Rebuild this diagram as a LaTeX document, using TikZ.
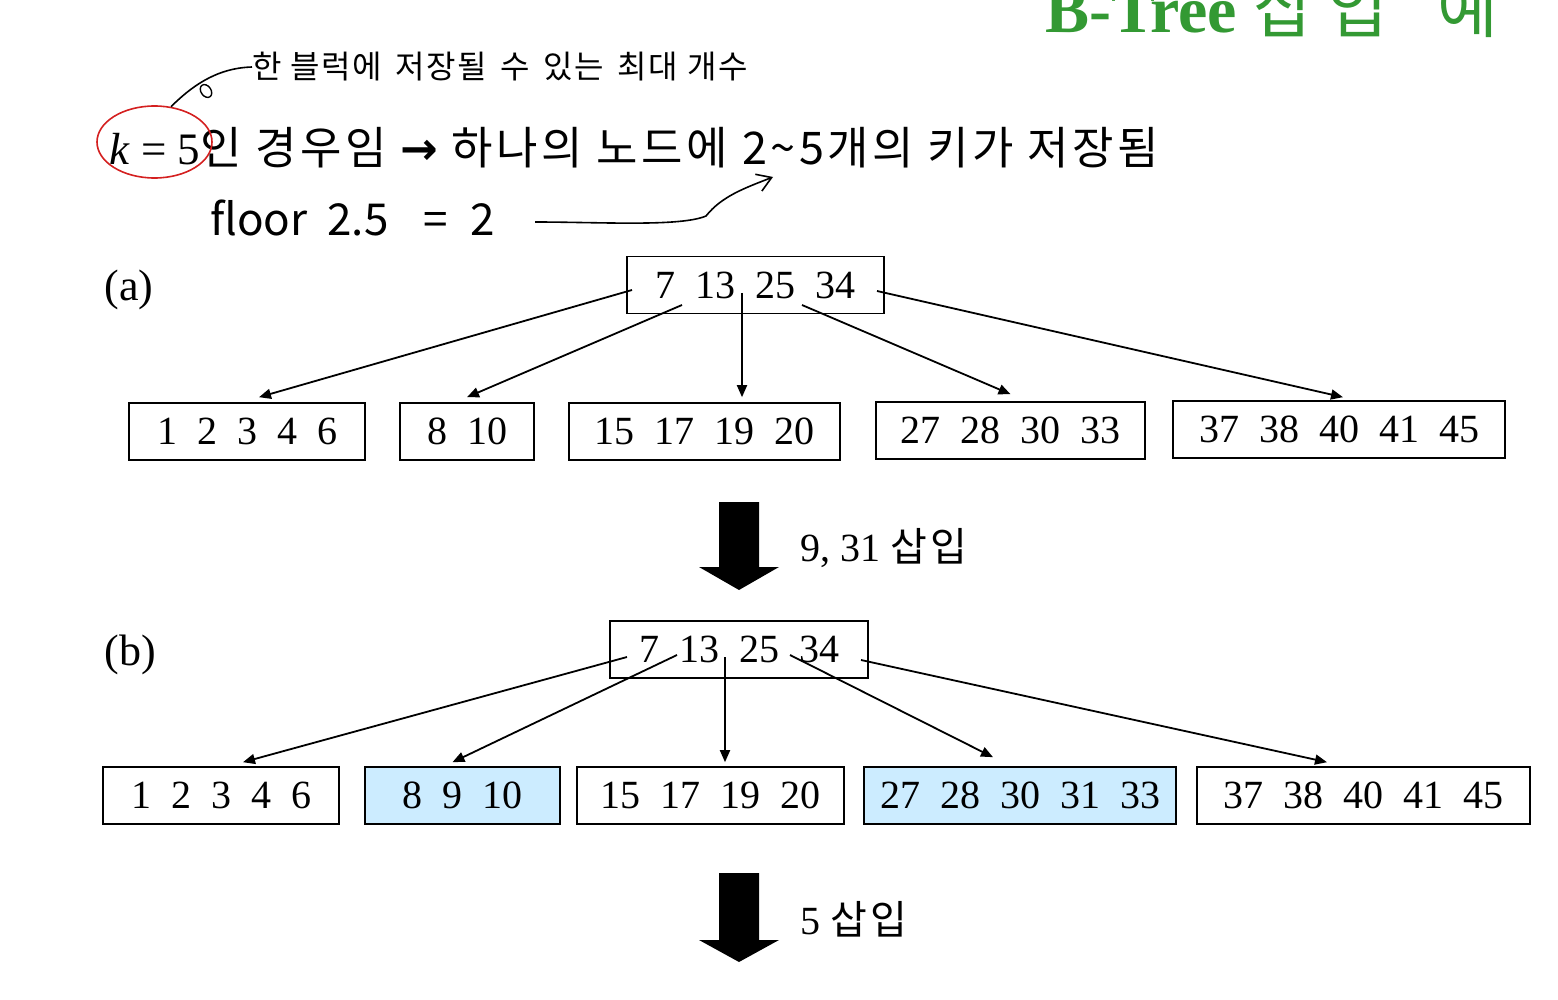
\documentclass[tikz,border=0pt]{standalone}
\usepackage{fontspec}
\setmainfont{Liberation Serif}
\newfontfamily\kr{Noto Sans CJK KR}
\newfontfamily\krs{Noto Sans CJK KR}[LetterSpace=8]
\newfontfamily\krh{Noto Sans CJK KR}[LetterSpace=5]
\newfontfamily\dv{DejaVu Sans}
\usetikzlibrary{arrows.meta,calc,shapes.geometric}

\definecolor{titlegreen}{HTML}{339933}
\definecolor{nodeblue}{HTML}{CCECFF}
\definecolor{circred}{HTML}{D42020}

\tikzset{
 keybox/.style={draw, line width=0.8pt, inner sep=0pt, font=\fontsize{20}{24}\selectfont, minimum height=28.5pt},
 newbox/.style={keybox, fill=nodeblue},
 ptr/.style={line width=0.9pt, -{Triangle[length=6pt,width=5pt]}},
 bigarrow/.style={fill=black},
 hand/.style={font=\krh\fontsize{16}{18}\selectfont, inner sep=0pt},
 lbl/.style={font=\fontsize{22}{26}\selectfont, inner sep=0pt},
 steplbl/.style={font=\fontsize{20}{24}\selectfont, inner sep=0pt, anchor=west},
}
\newcommand\kg{\hspace{0.5em}}

\begin{document}
\begin{tikzpicture}[x=0.5pt,y=-0.5pt]
\useasboundingbox (0,0) rectangle (1558,1000);

% title (cut off at top, as in the reference)
\node[anchor=base west, inner sep=0, text=titlegreen, font=\fontsize{33}{38}\selectfont\bfseries] (title) at (1045,33) {B-Tree {\kr\mdseries 삽\hspace{0.2em}입\hspace{0.75em}예}};

% main line
\node[anchor=base west, inner sep=0, font=\fontsize{22.5}{27}\selectfont] (kline) at (109,165)
 {\textit{k} = 5{\krs 인 경우임 {\dv\bfseries →} 하나의 노드에 2\char"007E 5개의 키가 저장됨}};

% handwritten annotations
\node[draw=circred, line width=0.8pt, ellipse, minimum width=57.5pt, minimum height=36pt, inner sep=0] (kcirc) at (154.5,142) {};
\node[hand, anchor=west] (note) at (252,67) {한 블럭에\hspace{0.15em} 저장될\hspace{0.15em} 수\hspace{0.15em} 있는\hspace{0.15em} 최대 개수};
\draw[line width=0.8pt] (kcirc.65) .. controls (190,88) and (215,68) .. (note.west);
\draw[line width=0.7pt, rotate around={35:(206,91)}] (206,91) ellipse [x radius=2.5pt, y radius=3.5pt];
\node[anchor=west, inner sep=0, font=\kr\fontsize{22}{26}\selectfont] (floor) at (210,218) {floor\hspace{0.45em}2.5\hspace{0.8em}=\hspace{0.5em}2};
\coordinate (fstart) at (535,222);
\coordinate (ftip) at (773,177);
\draw[line width=0.8pt, -{Straight Barb[length=7pt,width=9pt]}] (fstart) .. controls (600,222) and (680,227) .. (706,216) .. controls (722,196) and (745,188) .. (ftip);

% (a)
\node[lbl] (la) at (129,290) {(a)};
\node[keybox, minimum width=128.5pt] (ra) at (755.5,285) {7\kg13\kg25\kg34};
\node[keybox, minimum width=118pt] (a1) at (247,431.5) {1\kg2\kg3\kg4\kg6};
\node[keybox, minimum width=67pt] (a2) at (467,431.5) {8\kg10};
\node[keybox, minimum width=135.5pt] (a3) at (704.5,431.5) {15\kg17\kg19\kg20};
\node[keybox, minimum width=134.5pt] (a4) at (1010.5,430.5) {27\kg28\kg30\kg33};
\node[keybox, minimum width=166pt] (a5) at (1339,429.5) {37\kg38\kg40\kg41\kg45};

\coordinate (pa1) at (632,290);
\coordinate (pa2) at (682,305);
\coordinate (pa3) at (742,293);
\coordinate (pa4) at (802,305);
\coordinate (pa5) at (877,291);
\draw[ptr] (pa1) -- ($(a1.north)+(12,-5)$);
\draw[ptr] (pa2) -- ($(a2.north)+(0,-5)$);
\draw[ptr] (pa3) -- ($(a3.north)+(37.5,-5)$);
\draw[ptr] (pa4) -- ($(a4.north)+(0,-7)$);
\draw[ptr] (pa5) -- ($(a5.north)+(4,-3)$);

% big arrow 1
\fill[bigarrow] (719,502) -- (759,502) -- (759,567) -- (779,567) -- (739,590) -- (699,567) -- (719,567) -- cycle;
\node[steplbl] (s1) at (800,548) {9, 31 {\krs 삽입}};

% (b)
\node[lbl] (lb) at (130,655) {(b)};
\node[keybox, minimum width=129pt] (rb) at (739,649.5) {7\kg13\kg25\kg34};
\node[keybox, minimum width=118pt] (b1) at (221,795.5) {1\kg2\kg3\kg4\kg6};
\node[newbox, minimum width=97.5pt] (b2) at (462.5,795.5) {8\kg9\kg10};
\node[keybox, minimum width=133.5pt] (b3) at (710.5,795.5) {15\kg17\kg19\kg20};
\node[newbox, minimum width=156pt] (b4) at (1020,795.5) {27\kg28\kg30\kg31\kg33};
\node[keybox, minimum width=166.5pt] (b5) at (1363.5,795.5) {37\kg38\kg40\kg41\kg45};

\coordinate (pb1) at (627,657);
\coordinate (pb2) at (677,655);
\coordinate (pb3) at (725,657);
\coordinate (pb4) at (790,655);
\coordinate (pb5) at (861,660);
\draw[ptr] (pb1) -- ($(b1.north)+(22,-4)$);
\draw[ptr] (pb2) -- ($(b2.north)+(-10,-4)$);
\draw[ptr] (pb3) -- ($(b3.north)+(14.5,-4)$);
\draw[ptr] (pb4) -- ($(b4.north)+(-27,-9)$);
\draw[ptr] (pb5) -- ($(b5.north)+(-36.5,-4)$);

% big arrow 2
\fill[bigarrow] (719,873) -- (759,873) -- (759,940) -- (779,940) -- (739,962) -- (699,940) -- (719,940) -- cycle;
\node[steplbl] (s2) at (800,919) {5 {\krs 삽입}};
\end{tikzpicture}
\end{document}
